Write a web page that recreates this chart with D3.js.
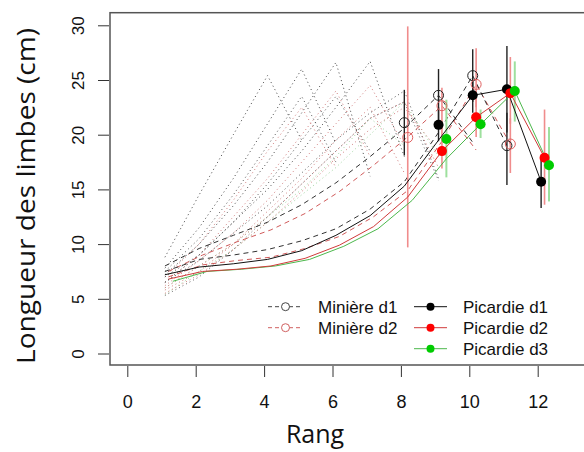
<!DOCTYPE html>
<html><head><meta charset="utf-8">
<script src="https://cdn.jsdelivr.net/npm/d3@7"></script>
<style>html,body{margin:0;padding:0;background:#fff;}svg{display:block;}</style>
</head><body><svg id="c" width="584" height="452"></svg>
<script>
// ---------- data ----------
const ranks = [1,2,3,4,5,6,7,8,9,10,11,12];
const xTicks = [0,2,4,6,8,10,12];
const yTicks = [0,5,10,15,20,25,30];

// Picardie mean curves (solid lines, ranks 1..12)
const picardieD1 = [7.2,7.9,8.2,8.6,9.4,10.8,12.6,15.3,19.5,23.6,24.15,15.7];
const picardieD2 = [6.8,7.5,7.7,8.0,8.7,9.9,11.6,14.3,18.5,21.6,23.8,17.9];
const picardieD3 = [6.6,7.5,7.7,8.0,8.6,9.8,11.4,14.0,17.8,20.95,24.0,17.2];
// Picardie points (ranks 9..12) and error bars
const picardieD1Pts = [20.9,23.6,24.15,15.7];
const picardieD2Pts = [18.5,21.6,23.8,17.9];
const picardieD3Pts = [19.6,20.95,24.0,17.2];
const picardieD1Lo = [19.4,22.0,20.2,13.3], picardieD1Hi = [22.4,25.0,28.1,18.0];
const picardieD2Lo = [16.9,19.8,21.0,13.6], picardieD2Hi = [21.0,24.0,27.1,22.3];
const picardieD3Lo = [16.1,19.7,21.2,13.9], picardieD3Hi = [23.2,22.3,26.7,20.7];

// Minière group means (dashed lines)
const miniereD1MeanA = [7.5,8.6,9.0,9.5,10.3,11.4,13.2,15.7,20.2,25.4,19.0];
const miniereD1MeanB = [8.0,9.6,10.8,12.0,13.6,15.6,18.0,20.6,23.6,19.3];
const miniereD2MeanA = [7.0,8.1,8.5,8.8,9.6,10.7,12.5,14.9,19.4,24.6,19.15];
const miniereD2MeanB = [7.5,9.0,10.2,11.3,12.8,14.8,17.2,19.8,22.65,18.6];
// Minière points (ranks 8..11) with error bars
const miniereD1Pts = [21.1,23.6,25.4,19.0];
const miniereD1Lo = [18.1,21.2,23.0,15.4], miniereD1Hi = [24.1,26.0,27.8,22.0];
const miniereD2Pts = [19.75,22.65,24.6,19.15];
const miniereD2Lo = [9.7,20.5,22.5,16.5], miniereD2Hi = [29.9,24.3,27.9,21.5];

// individual plants (dotted lines, starting at rank 1)
const dotBlack1 = [8.8,14.5,20.0,25.4,19.5];
const dotBlack2 = [7.8,11.5,16.0,21.0,26.0,19.2];
const dotBlack3 = [7.2,10.0,13.5,17.5,22.0,26.6,16.2];
const dotBlack4 = [7.0,9.0,12.0,15.0,18.5,22.5,26.7,18.0];
const dotBlack5 = [7.5,10.5,14.5,19.0,23.5,17.5];
const dotBlack6 = [6.5,9.0,12.0,15.5,19.5,23.5,18.5];
const dotBlack7 = [6.5,8.5,11.0,13.5,16.5,19.5,22.0,24.0,16.0];
const dotBlack8 = [5.3,7.0,9.5,12.5,15.5,18.5,21.5,23.0,15.8];
const dotRed1 = [7.0,10.0,14.0,18.5,22.5,17.0];
const dotRed2 = [6.5,9.0,12.5,16.0,20.0,24.0,18.0];
const dotRed3 = [6.2,8.5,11.0,14.0,17.5,21.0,24.5,19.0];
const dotRed4 = [6.0,8.0,10.0,12.5,15.5,18.5,21.5,23.0,17.0];
const dotRed5 = [5.8,7.5,10.0,13.0,16.0,19.5,22.5,16.5];
const dotRed6 = [5.5,7.2,9.5,12.0,14.8,17.8,20.5,22.5,18.5];
const dotGreen1 = [6.0,8.0,10.0,12.5,15.0,18.0,21.5,19.0];
const dotGreen2 = [5.4,7.5,9.5,12.0,14.5,17.0,20.0,23.0,18.0];

const legendLeft = ["Minière d1","Minière d2"];
const legendRight = ["Picardie d1","Picardie d2","Picardie d3"];

// ---------- drawing ----------
const svg = d3.select("#c");
const x = d3.scaleLinear().domain([0,12]).range([127.3,537.7]);
const y = d3.scaleLinear().domain([0,30]).range([353.5,25.3]);

// frame
svg.append("rect").attr("x",110).attr("y",12.7).attr("width",520).attr("height",352.3)
  .attr("fill","none").attr("stroke","#555").attr("stroke-width",1.5);

// axes
const gx = svg.append("g").attr("transform","translate(0,366)")
  .call(d3.axisBottom(x).tickValues(xTicks).tickSize(11).tickPadding(18).tickFormat(d3.format("d")));
gx.select(".domain").remove();
gx.selectAll("line").attr("stroke","#333");
gx.selectAll("text").attr("font-family","Liberation Sans, Arial, sans-serif").attr("font-size",18).attr("fill","#111");

const gy = svg.append("g").attr("transform","translate(109,0)")
  .call(d3.axisLeft(y).tickValues(yTicks).tickSize(11).tickFormat(d3.format("d")));
gy.select(".domain").remove();
gy.selectAll("line").attr("stroke","#333");
gy.selectAll("text").attr("font-family","Liberation Sans, Arial, sans-serif").attr("font-size",17).attr("fill","#111")
  .attr("text-anchor","middle").attr("dy",0).attr("x",0)
  .attr("transform","translate(-25,0) rotate(-90)");

// titles
svg.append("text").attr("transform","translate(35,196) rotate(-90)").attr("text-anchor","middle")
  .attr("font-family","Open Sans, sans-serif").attr("font-size",25).attr("fill","#111")
  .attr("textLength",336).attr("lengthAdjust","spacingAndGlyphs")
  .text("Longueur des limbes (cm)");
svg.append("text").attr("x",315).attr("y",443).attr("text-anchor","middle")
  .attr("font-family","Open Sans, sans-serif").attr("font-size",25).attr("fill","#111").text("Rang");

const plot = svg.append("g");
const line = (off) => d3.line().x((d,i)=>x(i+1+off)).y(d=>y(d));

// dotted individual lines
const dotted = [
  [dotGreen1,"#9ed49e"],[dotGreen2,"#9ed49e"],
  [dotRed1,"#d07a7a"],[dotRed2,"#d07a7a"],[dotRed3,"#d07a7a"],[dotRed4,"#d07a7a"],[dotRed5,"#d07a7a"],[dotRed6,"#d07a7a"],
  [dotBlack1,"#444"],[dotBlack2,"#444"],[dotBlack3,"#444"],[dotBlack4,"#444"],[dotBlack5,"#555"],[dotBlack6,"#555"],[dotBlack7,"#555"],[dotBlack8,"#666"]
];
dotted.forEach(([arr,col])=>{
  plot.append("path").attr("d",line(0.1)(arr)).attr("fill","none")
    .attr("stroke",col).attr("stroke-width",1).attr("stroke-dasharray","1,3");
});

// dashed Minière means
[[miniereD2MeanA,"#d05a5a",0.2],[miniereD2MeanB,"#d05a5a",0.2],[miniereD1MeanA,"#333",0.1],[miniereD1MeanB,"#333",0.1]]
.forEach(([arr,col,off])=>{
  plot.append("path").attr("d",line(off)(arr)).attr("fill","none")
    .attr("stroke",col).attr("stroke-width",1).attr("stroke-dasharray","5,4");
});

// error bars
function bars(lo,hi,r0,off,col,w){
  lo.forEach((l,i)=>{
    plot.append("line").attr("x1",x(r0+i+off)).attr("x2",x(r0+i+off))
      .attr("y1",y(l)).attr("y2",y(hi[i])).attr("stroke",col).attr("stroke-width",w);
  });
}
bars(miniereD2Lo,miniereD2Hi,8,0.2,"#f08c8c",1.6);
bars(picardieD3Lo,picardieD3Hi,9,0.33,"#9ee09e",2);
bars(picardieD2Lo,picardieD2Hi,9,0.2,"#f08c8c",1.6);
bars(miniereD1Lo,miniereD1Hi,8,0.1,"#222",1.4);
bars(picardieD1Lo,picardieD1Hi,9,0.1,"#222",1.4);

// solid Picardie lines
[[picardieD3,"#4cb84c",0.33],[picardieD2,"#d03a3a",0.2],[picardieD1,"#111",0.1]].forEach(([arr,col,off])=>{
  plot.append("path").attr("d",line(off)(arr)).attr("fill","none").attr("stroke",col).attr("stroke-width",1);
});

// Minière open circles
miniereD1Pts.forEach((v,i)=>plot.append("circle").attr("cx",x(8+i+0.1)).attr("cy",y(v)).attr("r",5)
  .attr("fill","none").attr("stroke","#222").attr("stroke-width",1));
miniereD2Pts.forEach((v,i)=>plot.append("circle").attr("cx",x(8+i+0.2)).attr("cy",y(v)).attr("r",5)
  .attr("fill","none").attr("stroke","#e06060").attr("stroke-width",1));

// Picardie filled points (ranks 9..12)
[[picardieD1Pts,"#000",0.1],[picardieD2Pts,"#ff0000",0.2],[picardieD3Pts,"#00cc00",0.33]].forEach(([arr,col,off])=>{
  arr.forEach((v,i)=>plot.append("circle").attr("cx",x(9+i+off)).attr("cy",y(v)).attr("r",5).attr("fill",col));
});

// legend
const lg = svg.append("g").attr("font-family","Liberation Sans, Arial, sans-serif").attr("font-size",17).attr("fill","#111");
const rowY = [306.7,327.7,348.7];
legendLeft.forEach((t,i)=>{
  const col = i===0 ? "#444" : "#d06060";
  lg.append("line").attr("x1",268).attr("x2",303).attr("y1",rowY[i]).attr("y2",rowY[i])
    .attr("stroke",col).attr("stroke-dasharray","4,3");
  lg.append("circle").attr("cx",285.5).attr("cy",rowY[i]).attr("r",4).attr("fill","#fff").attr("stroke",col);
  lg.append("text").attr("x",318).attr("y",rowY[i]+6).text(t);
});
const rc = ["#000","#ff0000","#00cc00"], rl = ["#111","#d03a3a","#4cb84c"];
legendRight.forEach((t,i)=>{
  lg.append("line").attr("x1",414).attr("x2",447).attr("y1",rowY[i]).attr("y2",rowY[i]).attr("stroke",rl[i]);
  lg.append("circle").attr("cx",430.5).attr("cy",rowY[i]).attr("r",4).attr("fill",rc[i]);
  lg.append("text").attr("x",463).attr("y",rowY[i]+6).text(t);
});
</script></body></html>
